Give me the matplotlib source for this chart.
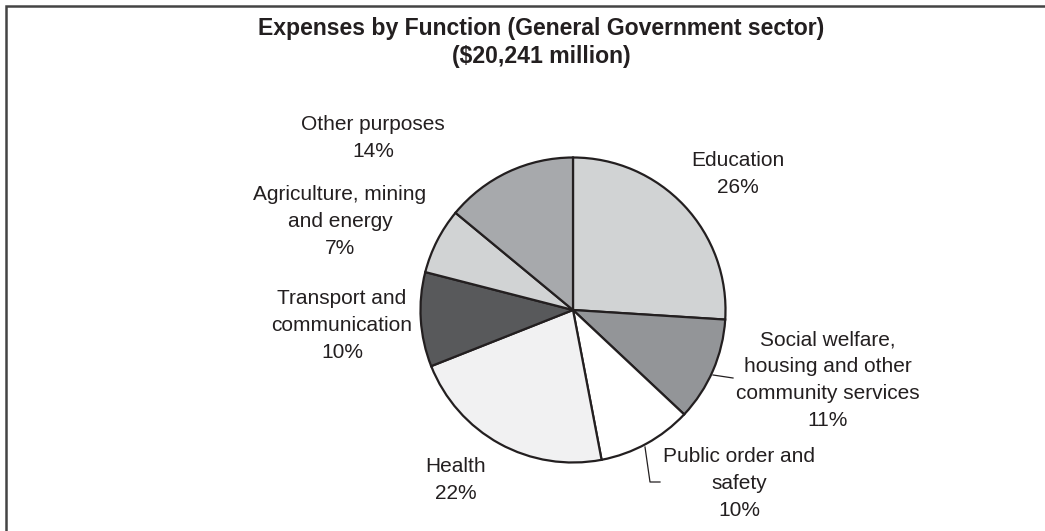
import matplotlib
matplotlib.use("Agg")
import matplotlib.pyplot as plt
from matplotlib.lines import Line2D

plt.rcParams["font.family"] = ["Liberation Sans", "DejaVu Sans"]

# Expenses by function, share of total (%), clockwise from 12 o'clock
categories = [
    "Education",
    "Social welfare,\nhousing and other\ncommunity services",
    "Public order and\nsafety",
    "Health",
    "Transport and\ncommunication",
    "Agriculture, mining\nand energy",
    "Other purposes",
]
shares = [26, 11, 10, 22, 10, 7, 14]
colors = ["#d1d3d4", "#939598", "#ffffff", "#f1f1f2", "#58595b", "#d1d3d4", "#a7a9ac"]

title_lines = ["Expenses by Function (General Government sector)", "($20,241 million)"]

W, H = 1045, 531
ink = "#231f20"

fig = plt.figure(figsize=(W / 100, H / 100), dpi=100)
ax = fig.add_axes([0, 0, 1, 1])


def Y(y):
    # pixel row measured from the top -> axes y
    return H - y


# pie
cx, cy, r = 573, 310, 152.5
ax.pie(shares, colors=colors, startangle=90, counterclock=False,
       center=(cx, Y(cy)), radius=r, frame=True,
       wedgeprops=dict(edgecolor=ink, linewidth=1.6, joinstyle="miter"))
ax.set_xlim(0, W)
ax.set_ylim(0, H)
ax.set_aspect("equal")
ax.axis("off")

# label anchors: centre of the first text line
label_pos = [
    (738, 160),
    (828, 339),
    (739, 456),
    (456, 466),
    (342, 298),
    (340, 194),
    (373, 124),
]
for name, val, (x, y) in zip(categories, shares, label_pos):
    ax.text(x, Y(y) + 9, f"{name}\n{val}%", ha="center", va="top",
            fontsize=15, color=ink, linespacing=1.53)

# leader lines
ax.add_line(Line2D([713, 733], [Y(375), Y(378)], color=ink, lw=0.9))
ax.add_line(Line2D([645, 650, 660], [Y(447), Y(482), Y(482)], color=ink, lw=0.9))

# title
for i, t in enumerate(title_lines):
    ax.text(541, Y(29 + 28 * i), t, ha="center", va="center",
            fontsize=16.6, fontweight="bold", color=ink)

# frame on top and left
ax.add_line(Line2D([5.5, 5.5, W], [0, Y(5.5), Y(5.5)], color="#444444", lw=1.8,
                   solid_joinstyle="miter"))

fig.savefig("out.png", dpi=100, facecolor="white")
